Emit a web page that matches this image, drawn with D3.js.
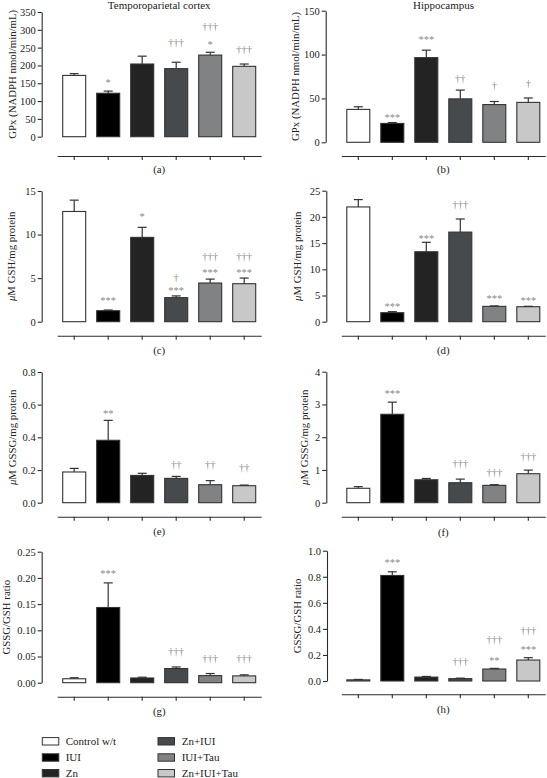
<!DOCTYPE html>
<html><head><meta charset="utf-8">
<script src="https://cdn.jsdelivr.net/npm/d3@7"></script>
<style>
body{margin:0;background:#fff}
svg{display:block}
text{font-family:"Liberation Serif","Times New Roman",serif;fill:#222}
</style>
</head><body>
<svg id="c" width="547" height="778"></svg>
<script>
// ---------- data ----------
const groups = ["Control w/t","IUI","Zn","Zn+IUI","IUI+Tau","Zn+IUI+Tau"];
const groupColors = ["#ffffff","#000000","#232323","#474a4c","#808284","#c8c8c8"];

const gpxCortex      = [172, 122, 204, 191, 229, 197.5];
const gpxCortexErr   = [5, 6, 22, 18, 8, 6.5];
const gpxHippo       = [37.5, 21.5, 96.5, 49.5, 43, 45.5];
const gpxHippoErr    = [3, 1, 8.5, 10, 3.5, 5];
const gshCortex      = [12.65, 1.26, 9.68, 2.76, 4.44, 4.36];
const gshCortexErr   = [1.3, 0.08, 1.15, 0.2, 0.45, 0.65];
const gshHippo       = [21.9, 1.72, 13.35, 17.1, 2.93, 2.86];
const gshHippoErr    = [1.4, 0.2, 1.8, 2.5, 0.08, 0.08];
const gssgCortex     = [0.188, 0.382, 0.167, 0.149, 0.110, 0.104];
const gssgCortexErr  = [0.022, 0.122, 0.013, 0.012, 0.025, 0.004];
const gssgHippo      = [0.44, 2.70, 0.70, 0.61, 0.53, 0.885];
const gssgHippoErr   = [0.05, 0.37, 0.04, 0.11, 0.02, 0.11];
const ratioCortex    = [0.0075, 0.1435, 0.009, 0.027, 0.0135, 0.013];
const ratioCortexErr = [0.002, 0.047, 0.0015, 0.003, 0.004, 0.002];
const ratioHippo     = [0.009, 0.81, 0.03, 0.018, 0.092, 0.161];
const ratioHippoErr  = [0.003, 0.028, 0.005, 0.004, 0.005, 0.018];

// significance marks: [group, symbol, level in data units]
const gpxCortexMarks  = [["IUI","*",156],["Zn+IUI","†††",263],["IUI+Tau","†††",308],["IUI+Tau","*",263],["Zn+IUI+Tau","†††",243]];
const gpxHippoMarks   = [["IUI","***",30],["Zn","***",119],["Zn+IUI","††",72],["IUI+Tau","†",64],["Zn+IUI+Tau","†",66.5]];
const gshCortexMarks  = [["IUI","***",2.57],["Zn","*",12.25],["Zn+IUI","†",4.93],["Zn+IUI","***",3.75],["IUI+Tau","†††",7.39],["IUI+Tau","***",5.82],["Zn+IUI+Tau","†††",7.39],["Zn+IUI+Tau","***",5.82]];
const gshHippoMarks   = [["IUI","***",3.24],["Zn","***",16.2],["Zn+IUI","†††",22.1],["IUI+Tau","***",4.71],["Zn+IUI+Tau","***",4.2]];
const gssgCortexMarks = [["IUI","**",0.557],["Zn+IUI","††",0.229],["IUI+Tau","††",0.229],["Zn+IUI+Tau","††",0.211]];
const gssgHippoMarks  = [["IUI","***",3.37],["Zn+IUI","†††",1.17],["IUI+Tau","†††",0.90],["Zn+IUI+Tau","†††",1.39]];
const ratioCortexMarks= [["IUI","***",0.2107],["Zn+IUI","†††",0.0573],["IUI+Tau","†††",0.0447],["Zn+IUI+Tau","†††",0.0447]];
const ratioHippoMarks = [["IUI","***",0.923],["Zn+IUI","†††",0.140],["IUI+Tau","†††",0.309],["IUI+Tau","**",0.169],["Zn+IUI+Tau","†††",0.378],["Zn+IUI+Tau","***",0.251]];

const ticksGpxCortex = [0,50,100,150,200,250,300,350];
const ticksGpxHippo  = [0,50,100,150];
const ticksGshCortex = [0,5,10,15];
const ticksGshHippo  = [0,5,10,15,20,25];
const ticksGssgCortex= [0,0.2,0.4,0.6,0.8];
const ticksGssgHippo = [0,1,2,3,4];
const ticksRatioCortex=[0,0.05,0.10,0.15,0.20,0.25];
const ticksRatioHippo= [0,0.2,0.4,0.6,0.8,1.0];

const titles = ["Temporoparietal cortex","Hippocampus"];
const panelLetters = ["(a)","(b)","(c)","(d)","(e)","(f)","(g)","(h)"];

// ---------- layout ----------
const svg = d3.select("#c");
const cols = [
  {axisX:41.7, range:[57.2,261.2]},
  {axisX:326.3, range:[341.3,545.3]}
];
const panels = [
  {col:0, vals:gpxCortex, err:gpxCortexErr, marks:gpxCortexMarks, ticks:ticksGpxCortex, fmt:d3.format("d"), label:"GPx (NADPH nmol/min/mL)", mu:false, y0:136.7, yTop:12, axisY:156, letterY:172.5, labX:15.5},
  {col:1, vals:gpxHippo, err:gpxHippoErr, marks:gpxHippoMarks, ticks:ticksGpxHippo, fmt:d3.format("d"), label:"GPx (NADPH nmol/min/mL)", mu:false, y0:142.3, yTop:10.7, axisY:156, letterY:172.5, labX:298.5, axisX:325.7},
  {col:0, vals:gshCortex, err:gshCortexErr, marks:gshCortexMarks, ticks:ticksGshCortex, fmt:d3.format("d"), label:"M GSH/mg protein", mu:true, y0:321.7, yTop:191, axisY:335.7, letterY:353.5, labX:14.5},
  {col:1, vals:gshHippo, err:gshHippoErr, marks:gshHippoMarks, ticks:ticksGshHippo, fmt:d3.format("d"), label:"M GSH/mg protein", mu:true, y0:321.7, yTop:190.7, axisY:335.7, letterY:354, labX:300.5},
  {col:0, vals:gssgCortex, err:gssgCortexErr, marks:gssgCortexMarks, ticks:ticksGssgCortex, fmt:d3.format(".1f"), label:"M GSSG/mg protein", mu:true, y0:502.7, yTop:372, axisY:516.7, letterY:535, labX:16},
  {col:1, vals:gssgHippo, err:gssgHippoErr, marks:gssgHippoMarks, ticks:ticksGssgHippo, fmt:d3.format("d"), label:"M GSSG/mg protein", mu:true, y0:502.7, yTop:371.7, axisY:516.7, letterY:535.5, labX:308},
  {col:0, vals:ratioCortex, err:ratioCortexErr, marks:ratioCortexMarks, ticks:ticksRatioCortex, fmt:d3.format(".2f"), label:"GSSG/GSH ratio", mu:false, y0:682.7, yTop:551.7, axisY:696.7, letterY:715, labX:10},
  {col:1, vals:ratioHippo, err:ratioHippoErr, marks:ratioHippoMarks, ticks:ticksRatioHippo, fmt:d3.format(".1f"), label:"GSSG/GSH ratio", mu:false, y0:681, yTop:550.7, axisY:694.3, letterY:713, labX:301, axisX:327}
];

const axisColor = "#2b2b2b";

panels.forEach((p, i) => {
  const col = cols[p.col];
  const axisX = p.axisX || col.axisX;
  const g = svg.append("g");
  const x = d3.scaleBand().domain(groups).range(col.range).paddingInner(11/34).paddingOuter(11/68);
  const yMax = p.ticks[p.ticks.length-1];
  const y = d3.scaleLinear().domain([0, yMax]).range([p.y0, p.yTop]);
  const color = d3.scaleOrdinal().domain(groups).range(groupColors);

  // y axis
  const ya = g.append("g").attr("transform", `translate(${axisX},0)`)
    .call(d3.axisLeft(y).tickValues(p.ticks).tickFormat(p.fmt).tickSize(4).tickSizeOuter(0).tickPadding(2));
  ya.select(".domain").attr("stroke", axisColor).attr("stroke-width", 1.1);
  ya.selectAll(".tick line").attr("stroke", axisColor).attr("stroke-width", 1.1);
  ya.selectAll(".tick text").attr("font-size", 10.5).attr("fill", "#222")
    .style("font-family", "'Liberation Serif',serif");

  // bottom axis
  const xa = g.append("g").attr("transform", `translate(0,${p.axisY})`)
    .call(d3.axisBottom(x).tickSize(4).tickSizeOuter(0).tickFormat(""));
  xa.select(".domain").attr("stroke", axisColor).attr("stroke-width", 1.1);
  xa.selectAll(".tick line").attr("stroke", axisColor).attr("stroke-width", 1.1);

  // bars
  const data = groups.map((gr, k) => ({g: gr, v: p.vals[k], e: p.err[k]}));
  g.selectAll("rect.bar").data(data).join("rect").attr("class","bar")
    .attr("x", d => x(d.g)).attr("width", x.bandwidth())
    .attr("y", d => y(d.v)).attr("height", d => y(0) - y(d.v))
    .attr("fill", d => color(d.g)).attr("stroke", "#333").attr("stroke-width", 1.1);

  // error bars (upper only)
  const capW = 9;
  data.forEach(d => {
    const cx = x(d.g) + x.bandwidth()/2;
    const top = y(d.v + d.e);
    g.append("line").attr("x1", cx).attr("x2", cx).attr("y1", y(d.v)).attr("y2", top)
      .attr("stroke", "#333").attr("stroke-width", 1.2);
    g.append("line").attr("x1", cx - capW/2).attr("x2", cx + capW/2).attr("y1", top).attr("y2", top)
      .attr("stroke", "#333").attr("stroke-width", 1.2);
  });

  // significance marks
  p.marks.forEach(m => {
    const cx = x(m[0]) + x.bandwidth()/2;
    const off = m[1].includes("*") ? 4.8 : 2.6;
    g.append("text").attr("x", cx).attr("y", y(m[2]) + off)
      .attr("text-anchor", "middle").attr("font-size", 10.5).style("fill", "#8a8a8a")
      .text(m[1]);
  });

  // y label
  const cy = (p.y0 + p.yTop)/2;
  const lt = g.append("text").attr("transform", `translate(${p.labX},${cy}) rotate(-90)`)
    .attr("text-anchor", "middle").attr("font-size", 10.8);
  if (p.mu) {
    lt.append("tspan").attr("font-style", "italic").text("μ");
  }
  lt.append("tspan").text(p.label);

  // panel letter
  g.append("text").attr("x", (col.range[0] + col.range[1])/2).attr("y", p.letterY)
    .attr("text-anchor", "middle").attr("font-size", 10.8).text(panelLetters[i]);
});

// titles
svg.append("text").attr("x", 159.2).attr("y", 8.5).attr("text-anchor","middle").attr("font-size", 11).text(titles[0]);
svg.append("text").attr("x", 443.5).attr("y", 8.5).attr("text-anchor","middle").attr("font-size", 11).text(titles[1]);

// legend
const legendCols = [{bx:42.3, tx:65.7}, {bx:158, tx:181.7}];
const legendRowY = [741.3, 757.5, 773.2];
groups.forEach((gr, k) => {
  const c = legendCols[Math.floor(k/3)];
  const ry = legendRowY[k % 3];
  svg.append("rect").attr("x", c.bx).attr("y", ry - 3.7).attr("width", 16.5).attr("height", 7.4)
    .attr("fill", groupColors[k]).attr("stroke", "#333").attr("stroke-width", 1);
  svg.append("text").attr("x", c.tx).attr("y", ry + 3.8).attr("font-size", 11).text(gr);
});
</script>
</body></html>
